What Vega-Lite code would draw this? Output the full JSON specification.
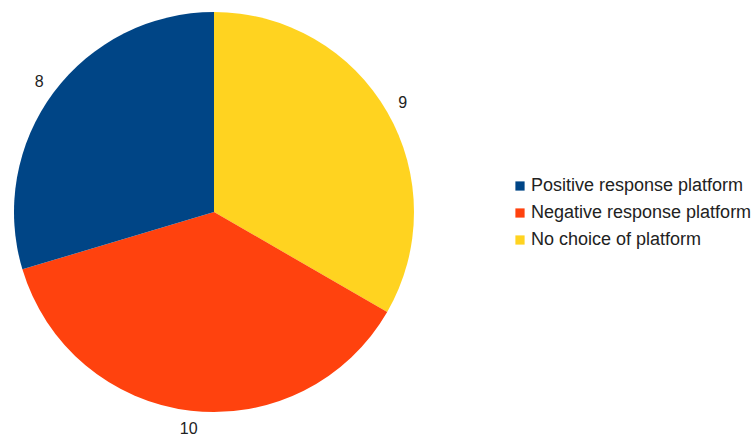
{
  "$schema": "https://vega.github.io/schema/vega-lite/v6.json",
  "width": 428,
  "height": 424,
  "padding": 0,
  "background": "white",
  "config": {"view": {"stroke": null}, "font": "Liberation Sans"},
  "data": {
    "values": [
      {"category": "No choice of platform", "value": 9, "ord": 1},
      {"category": "Negative response platform", "value": 10, "ord": 2},
      {"category": "Positive response platform", "value": 8, "ord": 3}
    ]
  },
  "encoding": {
    "theta": {"field": "value", "type": "quantitative", "stack": true},
    "order": {"field": "ord", "type": "quantitative"}
  },
  "layer": [
    {
      "mark": {"type": "arc", "outerRadius": 200},
      "encoding": {
        "color": {
          "field": "category",
          "type": "nominal",
          "scale": {
            "domain": ["Positive response platform", "Negative response platform", "No choice of platform"],
            "range": ["#004586", "#ff420e", "#ffd320"]
          },
          "legend": {
            "title": null,
            "orient": "none",
            "legendX": 511,
            "legendY": 177,
            "padding": 0,
            "symbolType": "square",
            "symbolSize": 85,
            "symbolStrokeWidth": 0,
            "labelFontSize": 18,
            "labelColor": "#222222",
            "labelOffset": 2,
            "rowPadding": 9,
            "labelLimit": 400
          }
        }
      }
    },
    {
      "mark": {"type": "text", "radius": 218, "fontSize": 16, "color": "#222222"},
      "encoding": {"text": {"field": "value", "type": "quantitative"}}
    }
  ]
}
